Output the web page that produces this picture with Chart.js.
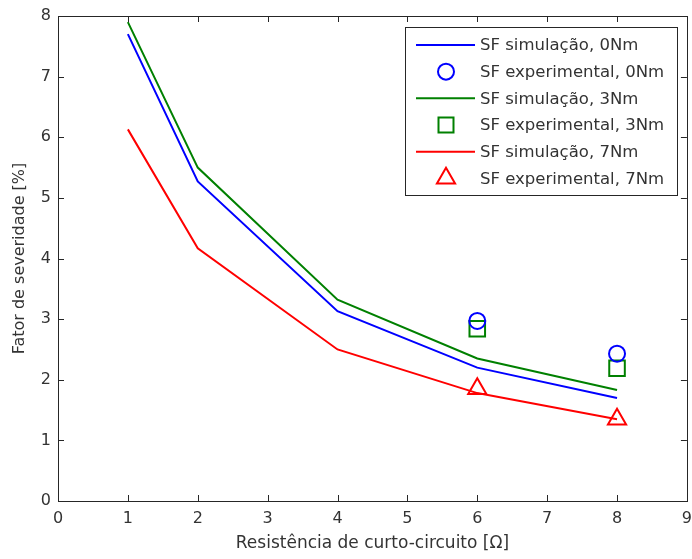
<!DOCTYPE html>
<html>
<head>
<meta charset="utf-8">
<script src="https://cdn.jsdelivr.net/npm/chart.js@4/dist/chart.umd.min.js"></script>
<style>
html,body{margin:0;padding:0;background:#fff;overflow:hidden;}
#wrap{width:692px;height:559px;position:relative;}
canvas{display:block;}
</style>
</head>
<body>
<div id="wrap"><canvas id="c" width="692" height="559"></canvas></div>
<script>
// ---- data ----
const resistSim = [1, 2, 4, 6, 8];
const sim0 = [7.70, 5.27, 3.13, 2.20, 1.70];
const sim3 = [7.90, 5.50, 3.32, 2.35, 1.83];
const sim7 = [6.13, 4.17, 2.50, 1.78, 1.35];
const resistExp = [6, 8];
const exp0 = [2.97, 2.43];
const exp3 = [2.84, 2.19];
const exp7 = [1.85, 1.35];
const xTicks = [0,1,2,3,4,5,6,7,8,9];
const yTicks = [0,1,2,3,4,5,6,7,8];
const legendLabels = [
  'SF simulação, 0Nm','SF experimental, 0Nm',
  'SF simulação, 3Nm','SF experimental, 3Nm',
  'SF simulação, 7Nm','SF experimental, 7Nm'
];

const FONT = '"DejaVu Sans", Verdana, sans-serif';
const TXT = '#333333';
const AX = '#262626';
const pts = (xs, ys) => xs.map((x, i) => ({x, y: ys[i]}));

function lineDS(label, data, color) {
  return {type:'line', label, data, borderColor: color, backgroundColor: color,
    borderWidth: 2, pointRadius: 0, fill:false, tension:0, order: 1};
}
function expDS(label, data, color, style, r) {
  return {type:'line', label, data, showLine:false, borderColor: color,
    backgroundColor:'rgba(0,0,0,0)', pointBorderColor: color, pointBackgroundColor:'rgba(0,0,0,0)',
    pointStyle: style, pointRadius: r, pointBorderWidth: 2, pointHoverRadius: r, order: 2};
}

const datasets = [
  lineDS(legendLabels[0], pts(resistSim, sim0), '#0000ff'),
  expDS(legendLabels[1], pts(resistExp, exp0), '#0000ff', 'circle', 8),
  lineDS(legendLabels[2], pts(resistSim, sim3), '#008000'),
  expDS(legendLabels[3], pts(resistExp, exp3), '#008000', 'rect', 11),
  lineDS(legendLabels[4], pts(resistSim, sim7), '#ff0000'),
  expDS(legendLabels[5], pts(resistExp, exp7), '#ff0000', 'triangle', 10.5),
];

const frame = {
  id: 'frame',
  afterDatasetsDraw(chart) {
    const {ctx, chartArea: a, scales} = chart;
    ctx.save();
    ctx.strokeStyle = AX;
    ctx.lineWidth = 1;
    ctx.strokeRect(Math.round(a.left)+0.5, Math.round(a.top)+0.5, Math.round(a.right-a.left), Math.round(a.bottom-a.top));
    const L = 6;
    ctx.beginPath();
    xTicks.forEach(v => {
      const px = Math.round(scales.x.getPixelForValue(v)) + 0.5;
      ctx.moveTo(px, a.bottom); ctx.lineTo(px, a.bottom - L);
      ctx.moveTo(px, a.top); ctx.lineTo(px, a.top + L);
    });
    yTicks.forEach(v => {
      const py = Math.round(scales.y.getPixelForValue(v)) + 0.5;
      ctx.moveTo(a.left, py); ctx.lineTo(a.left + L, py);
      ctx.moveTo(a.right, py); ctx.lineTo(a.right - L, py);
    });
    ctx.stroke();
    ctx.restore();
  },
  afterDraw(chart) {
    const {ctx, chartArea: a} = chart;
    const bw = 272, bh = 168;
    const bx = Math.round(a.right - 10 - bw), by = Math.round(a.top + 11);
    ctx.save();
    ctx.fillStyle = '#ffffff';
    ctx.fillRect(bx, by, bw, bh);
    ctx.strokeStyle = AX;
    ctx.lineWidth = 1;
    ctx.strokeRect(bx + 0.5, by + 0.5, bw, bh);
    const rowH = 26.67;
    chart.data.datasets.forEach((ds, i) => {
      const cy = by + 18 + i * rowH;
      const x0 = bx + 11, x1 = bx + 70, cx = bx + 41;
      ctx.strokeStyle = ds.borderColor;
      ctx.lineWidth = 2;
      if (ds.showLine === false) {
        ctx.beginPath();
        if (ds.pointStyle === 'circle') {
          ctx.arc(cx, cy, 8, 0, Math.PI * 2);
        } else if (ds.pointStyle === 'rect') {
          ctx.rect(cx - 7.5, cy - 7.5, 15, 15);
        } else {
          const r = 10.5;
          ctx.moveTo(cx, cy - r);
          ctx.lineTo(cx + r * Math.sin(Math.PI / 3), cy + r / 2);
          ctx.lineTo(cx - r * Math.sin(Math.PI / 3), cy + r / 2);
          ctx.closePath();
        }
        ctx.stroke();
      } else {
        ctx.beginPath();
        ctx.moveTo(x0, cy); ctx.lineTo(x1, cy);
        ctx.stroke();
      }
      ctx.fillStyle = TXT;
      ctx.font = '16.5px ' + FONT;
      ctx.textBaseline = 'middle';
      ctx.textAlign = 'left';
      ctx.fillText(ds.label, bx + 75, cy + 1);
    });
    ctx.restore();
  }
};

new Chart(document.getElementById('c'), {
  data: { datasets },
  options: {
    responsive: false,
    animation: false,
    events: [],
    layout: { autoPadding: false, padding: { left: 0, right: 5, top: 16, bottom: 0 } },
    plugins: { legend: { display: false }, tooltip: { enabled: false } },
    scales: {
      x: {
        type: 'linear', min: 0, max: 9,
        afterBuildTicks: s => { s.ticks = xTicks.map(v => ({value: v})); },
        afterFit: s => { s.height = 58; },
        grid: { display: true, drawOnChartArea: false, drawTicks: true, tickLength: 8, tickColor: 'rgba(0,0,0,0)' },
        border: { display: false },
        ticks: { color: TXT, font: { family: FONT, size: 16 }, padding: 0, maxRotation: 0 },
        title: { display: true, text: 'Resistência de curto-circuito [Ω]', color: TXT,
                 font: { family: FONT, size: 17 }, padding: { top: 2, bottom: 5 } }
      },
      y: {
        type: 'linear', min: 0, max: 8,
        afterBuildTicks: s => { s.ticks = yTicks.map(v => ({value: v})); },
        afterFit: s => { s.width = 58; },
        grid: { display: true, drawOnChartArea: false, drawTicks: true, tickLength: 7, tickColor: 'rgba(0,0,0,0)' },
        border: { display: false },
        ticks: { color: TXT, font: { family: FONT, size: 16 }, padding: 0 },
        title: { display: true, text: 'Fator de severidade [%]', color: TXT,
                 font: { family: FONT, size: 16 }, padding: { top: 10, bottom: 2 } }
      }
    }
  },
  plugins: [frame]
});
</script>
</body>
</html>
